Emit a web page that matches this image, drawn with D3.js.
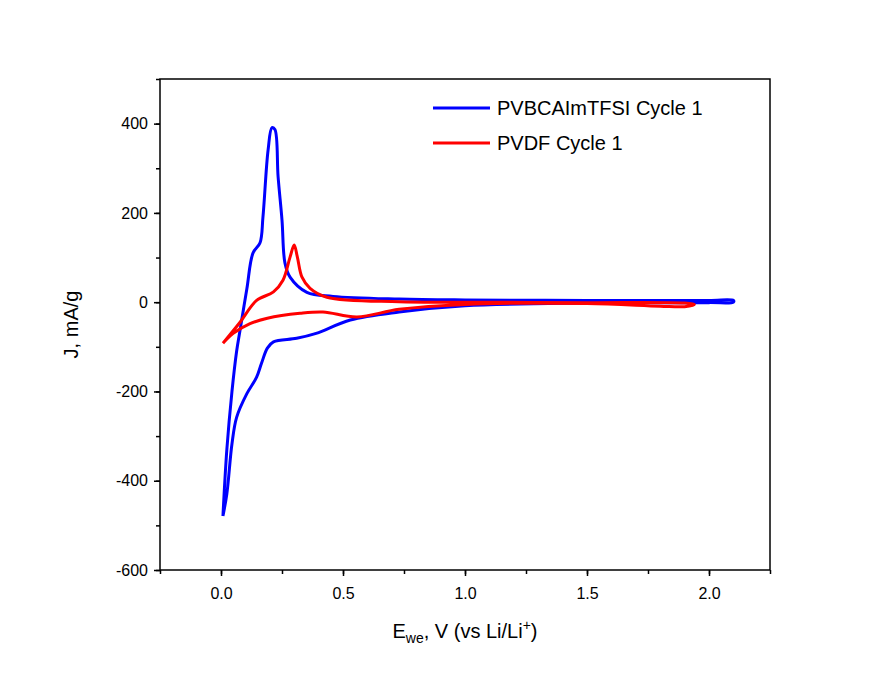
<!DOCTYPE html><html><head><meta charset="utf-8"><script src="https://cdn.jsdelivr.net/npm/d3@7"></script>
<style>body{margin:0;background:#fff}text{font-family:Arial,"Liberation Sans",sans-serif}</style></head><body>
<svg id="c" width="895" height="687"></svg>
<script>
const seriesNames=["PVBCAImTFSI Cycle 1","PVDF Cycle 1"];
const colors=["#0000ff","#ff0000"];
const blueE=[0.008,0.024,0.045,0.064,0.078,0.106,0.131,0.16,0.172,0.193,0.209,0.221,0.234,0.25,0.262,0.283,0.352,0.459,0.73,1.0,1.5,2.0,2.1,2.1,2.0,1.5,1.0,0.73,0.53,0.39,0.31,0.215,0.19,0.166,0.146,0.106,0.064,0.045,0.024,0.008];
const blueJ=[-479,-330,-200,-110,-63,30,110,133,191,341,391,387,281,184,88,56,22,13,7,5,4,4,4,0,-1,-2,-8,-22,-40,-70,-81,-89,-103,-137,-168,-205,-258,-317,-429,-479];
const redE=[0.008,0.078,0.146,0.215,0.254,0.283,0.3,0.313,0.332,0.365,0.434,0.73,1.0,1.5,1.9,1.94,1.9,1.8,1.5,1.0,0.73,0.557,0.418,0.324,0.19,0.119,0.05,0.008];
const redJ=[-92,-45,4,23,49,101,128,101,56,31,11,1,0,-1,-2,-5,-10,-9,-3,-5,-16,-33,-22,-25,-36,-48,-70,-92];
const xTicks=[0,0.5,1,1.5,2];
const yTicks=[-600,-400,-200,0,200,400];
const svg=d3.select("#c");
const L=160,R=770,T=79,B=570;
const x=d3.scaleLinear().domain([-0.25,2.25]).range([L,R]);
const y=d3.scaleLinear().domain([-600,500]).range([B,T]);
const g=svg.append("g");
const ax=d3.axisBottom(x).tickValues(xTicks).tickFormat(d3.format(".1f")).tickSize(6).tickPadding(12);
const axm=d3.axisBottom(x).tickValues(d3.range(-0.25,2.26,0.25)).tickFormat("").tickSize(4);
const ay=d3.axisLeft(y).tickValues(yTicks).tickFormat(d=>String(d)).tickSize(6).tickPadding(6);
const aym=d3.axisLeft(y).tickValues(d3.range(-600,501,100)).tickFormat("").tickSize(4);
[axm,ax].forEach(a=>g.append("g").attr("transform",`translate(0,${B})`).call(a));
[aym,ay].forEach(a=>g.append("g").attr("transform",`translate(${L},0)`).call(a));
g.selectAll(".domain").remove();
g.selectAll(".tick line").attr("stroke","#000").attr("stroke-width",1.5);
g.selectAll(".tick text").attr("font-size",16).attr("fill","#000");
const data=[[blueE,blueJ],[redE,redJ]];
const line=d3.line().x(d=>x(d[0])).y(d=>y(d[1])).curve(d3.curveCatmullRom.alpha(0.5));
data.forEach(([E,J],i)=>{
 svg.append("path").datum(E.map((e,k)=>[e,J[k]])).attr("d",line).attr("fill","none").attr("stroke",colors[i]).attr("stroke-width",3);
});
svg.append("rect").attr("x",L).attr("y",T).attr("width",R-L).attr("height",B-T).attr("fill","none").attr("stroke","#000").attr("stroke-width",1.5);
seriesNames.forEach((n,i)=>{
 const yy=108+i*35;
 svg.append("line").attr("x1",433).attr("x2",490).attr("y1",yy).attr("y2",yy).attr("stroke",colors[i]).attr("stroke-width",3);
 svg.append("text").attr("x",497).attr("y",yy+7).attr("font-size",20).text(n);
});
const xt=svg.append("text").attr("x",465).attr("y",638).attr("text-anchor","middle").attr("font-size",20);
xt.append("tspan").text("E");
xt.append("tspan").attr("font-size",14).attr("dy",5).text("we");
xt.append("tspan").attr("dy",-5).text(", V (vs Li/Li");
xt.append("tspan").attr("font-size",14).attr("dy",-8).text("+");
xt.append("tspan").attr("dy",8).text(")");
svg.append("text").attr("transform",`translate(78,${(T+B)/2}) rotate(-90)`).attr("text-anchor","middle").attr("font-size",20).text("J, mA/g");
</script></body></html>
